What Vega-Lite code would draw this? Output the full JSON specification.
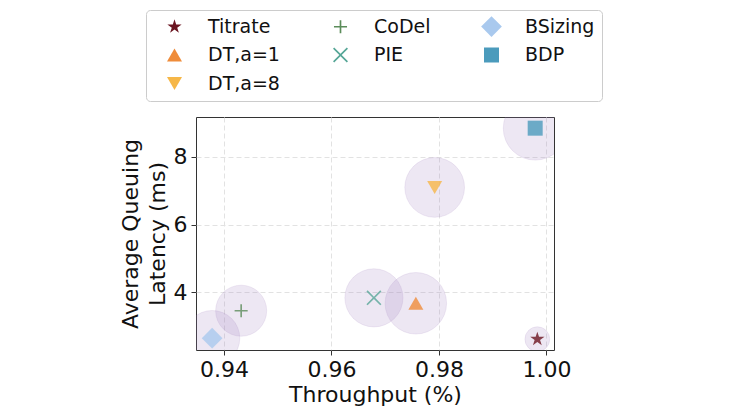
{
  "$schema": "https://vega.github.io/schema/vega-lite/v6.json",
  "autosize": {"type": "none"},
  "padding": {"left": 196, "top": 117, "right": 181, "bottom": 64},
  "width": 358,
  "height": 233,
  "data": {
    "values": [
      {"method": "Titrate", "throughput": 0.9983, "latency": 2.62, "spread": 14.0},
      {"method": "CoDel", "throughput": 0.9432, "latency": 3.46, "spread": 28.8},
      {"method": "BSizing", "throughput": 0.9378, "latency": 2.65, "spread": 31.2},
      {"method": "DT,a=1", "throughput": 0.9757, "latency": 3.68, "spread": 34.7},
      {"method": "PIE", "throughput": 0.9679, "latency": 3.84, "spread": 32.8},
      {"method": "BDP", "throughput": 0.9979, "latency": 8.85, "spread": 36.0},
      {"method": "DT,a=8", "throughput": 0.9792, "latency": 7.10, "spread": 33.7}
    ]
  },
  "encoding": {
    "x": {
      "field": "throughput",
      "type": "quantitative",
      "scale": {"domain": [0.9348, 1.0014], "nice": false, "zero": false},
      "axis": {
        "title": "Throughput (%)",
        "values": [0.94, 0.96, 0.98, 1.0],
        "format": ".2f"
      }
    },
    "y": {
      "field": "latency",
      "type": "quantitative",
      "scale": {"domain": [2.3, 9.18], "nice": false, "zero": false},
      "axis": {
        "title": ["Average Queuing", "Latency (ms)"],
        "values": [4, 6, 8],
        "format": "d"
      }
    }
  },
  "layer": [
    {
      "mark": {
        "type": "point",
        "shape": "circle",
        "filled": true,
        "clip": true,
        "color": "#a082be",
        "fillOpacity": 0.19,
        "stroke": "#a082be",
        "strokeOpacity": 0.15,
        "strokeWidth": 1
      },
      "encoding": {
        "size": {
          "field": "spread",
          "type": "quantitative",
          "scale": {"type": "pow", "exponent": 2, "domain": [0, 40], "range": [0, 5026.5]},
          "legend": null
        }
      }
    },
    {
      "mark": {"type": "point", "filled": true, "size": 225, "fillOpacity": 0.8, "strokeWidth": 0},
      "encoding": {
        "color": {
          "field": "method",
          "type": "nominal",
          "scale": {
            "domain": ["Titrate", "CoDel", "BSizing", "DT,a=1", "PIE", "BDP", "DT,a=8"],
            "range": ["#6b1521", "#5b8c5a", "#a9c9ee", "#ef8c3a", "#56a697", "#4b9bbc", "#f6b748"]
          },
          "legend": {
            "title": null,
            "values": ["Titrate", "CoDel", "BSizing", "DT,a=1", "PIE", "BDP", "DT,a=8"]
          }
        },
        "shape": {
          "field": "method",
          "type": "nominal",
          "scale": {
            "domain": ["Titrate", "CoDel", "BSizing", "DT,a=1", "PIE", "BDP", "DT,a=8"],
            "range": [
              "M0,-1L0.2234,-0.3074L0.9511,-0.309L0.3614,0.1174L0.5878,0.809L0,0.38L-0.5878,0.809L-0.3614,0.1174L-0.9511,-0.309L-0.2234,-0.3074Z",
              "M-0.87,-0.11L-0.11,-0.11L-0.11,-0.87L0.11,-0.87L0.11,-0.11L0.87,-0.11L0.87,0.11L0.11,0.11L0.11,0.87L-0.11,0.87L-0.11,0.11L-0.87,0.11Z",
              "M0,-1.38L1.38,0L0,1.38L-1.38,0Z",
              "triangle-up",
              "M-1,-0.84L-0.84,-1L0,-0.16L0.84,-1L1,-0.84L0.16,0L1,0.84L0.84,1L0,0.16L-0.84,1L-1,0.84L-0.16,0Z",
              "square",
              "triangle-down"
            ]
          },
          "legend": {
            "title": null,
            "values": ["Titrate", "CoDel", "BSizing", "DT,a=1", "PIE", "BDP", "DT,a=8"]
          }
        }
      }
    }
  ],
  "config": {
    "font": "DejaVu Sans",
    "view": {"stroke": "#333333", "strokeWidth": 1},
    "axis": {
      "domain": false,
      "grid": true,
      "gridColor": "#e2e2e2",
      "gridDash": [5, 3],
      "gridWidth": 1,
      "tickColor": "#333333",
      "tickSize": 5,
      "tickWidth": 1,
      "labelFont": "DejaVu Sans",
      "labelFontSize": 22,
      "labelColor": "#111111",
      "labelPadding": 4,
      "labelFlush": false,
      "labelOverlap": false,
      "titleFont": "DejaVu Sans",
      "titleFontSize": 22,
      "titleFontWeight": "normal",
      "titleColor": "#111111",
      "titlePadding": 4,
      "titleLineHeight": 27
    },
    "legend": {
      "orient": "none",
      "legendX": -50,
      "legendY": -107,
      "direction": "horizontal",
      "columns": 3,
      "gridAlign": "each",
      "columnPadding": 39,
      "rowPadding": 8.5,
      "padding": 7,
      "strokeColor": "#cccccc",
      "fillColor": "#ffffff",
      "cornerRadius": 4,
      "labelFont": "DejaVu Sans",
      "labelFontSize": 19,
      "labelColor": "#111111",
      "labelOffset": 24,
      "symbolOffset": 12,
      "symbolSize": 225,
      "symbolOpacity": 1,
      "symbolStrokeWidth": 0
    }
  }
}
